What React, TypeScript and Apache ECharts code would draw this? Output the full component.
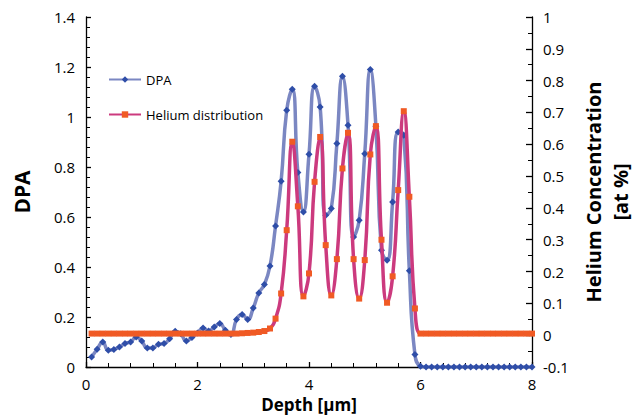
import React, { useEffect, useRef } from "react";
import * as echarts from "echarts";

const depth = [
  0.1, 0.2, 0.3, 0.4, 0.5, 0.6, 0.7, 0.8, 0.9, 1.0,
  1.1, 1.2, 1.3, 1.4, 1.5, 1.6, 1.7, 1.8, 1.9, 2.0,
  2.1, 2.2, 2.3, 2.4, 2.5, 2.6, 2.7, 2.8, 2.9, 3.0,
  3.1, 3.2, 3.3, 3.4, 3.5, 3.6, 3.7, 3.8, 3.9, 4.0,
  4.1, 4.2, 4.3, 4.4, 4.5, 4.6, 4.7, 4.8, 4.9, 5.0,
  5.1, 5.2, 5.3, 5.4, 5.5, 5.6, 5.7, 5.8, 5.9, 6.0,
  6.1, 6.2, 6.3, 6.4, 6.5, 6.6, 6.7, 6.8, 6.9, 7.0,
  7.1, 7.2, 7.3, 7.4, 7.5, 7.6, 7.7, 7.8, 7.9, 8.0,
];

const dpa = [
  0.04, 0.071, 0.10, 0.067, 0.07, 0.08, 0.094, 0.10, 0.12, 0.104,
  0.076, 0.076, 0.091, 0.094, 0.113, 0.143, 0.133, 0.104, 0.118, 0.136,
  0.156, 0.144, 0.16, 0.174, 0.147, 0.13, 0.19, 0.21, 0.19, 0.236,
  0.296, 0.33, 0.404, 0.564, 0.743, 1.027, 1.111, 0.778, 0.62, 0.851,
  1.123, 1.04, 0.607, 0.634, 0.894, 1.163, 0.967, 0.52, 0.587, 0.853,
  1.19, 0.963, 0.467, 0.427, 0.66, 0.94, 0.927, 0.385, 0.05, 0.003,
  0, 0, 0, 0, 0, 0, 0, 0, 0, 0,
  0, 0, 0, 0, 0, 0, 0, 0, 0, 0,
];

const helium = [
  0.005, 0.005, 0.005, 0.005, 0.005, 0.005, 0.005, 0.005, 0.005, 0.005,
  0.005, 0.005, 0.005, 0.005, 0.005, 0.005, 0.005, 0.005, 0.005, 0.005,
  0.005, 0.005, 0.005, 0.005, 0.005, 0.005, 0.005, 0.006, 0.007, 0.008,
  0.01, 0.013, 0.021, 0.052, 0.131, 0.33, 0.608, 0.405, 0.122, 0.194,
  0.482, 0.623, 0.283, 0.125, 0.239, 0.524, 0.636, 0.239, 0.115, 0.236,
  0.568, 0.657, 0.30, 0.102, 0.185, 0.456, 0.704, 0.435, 0.084, 0.005,
  0.005, 0.005, 0.005, 0.005, 0.005, 0.005, 0.005, 0.005, 0.005, 0.005,
  0.005, 0.005, 0.005, 0.005, 0.005, 0.005, 0.005, 0.005, 0.005, 0.005,
];

const seriesNames = ["DPA", "Helium distribution"];

const FONT = "Open Sans";

export default function App() {
  const ref = useRef<HTMLDivElement>(null);

  useEffect(() => {
    if (!ref.current) return;
    const chart = echarts.init(ref.current, null, { renderer: "svg" });
    const axisCommon = {
      axisLine: { show: true, lineStyle: { color: "#000", width: 1.3 } },
      splitLine: { show: false },
      axisTick: { show: true, inside: true, length: 5, lineStyle: { color: "#000", width: 1.3 } },
      axisLabel: { color: "#000", fontFamily: FONT, fontSize: 15 },
      nameTextStyle: { color: "#000", fontFamily: FONT, fontWeight: "bold" as const },
    };
    chart.setOption({
      animation: false,
      backgroundColor: "#fff",
      grid: { left: 86, right: 101, top: 17, bottom: 50, containLabel: false, outerBoundsMode: "none" },
      legend: {
        data: seriesNames,
        orient: "vertical",
        left: 103,
        top: 68,
        itemWidth: 32,
        itemHeight: 8,
        itemGap: 22,
        textStyle: { color: "#000", fontFamily: FONT, fontSize: 13 },
      },
      xAxis: {
        type: "value",
        min: 0,
        max: 8,
        interval: 2,
        name: "Depth [μm]",
        nameLocation: "middle",
        nameGap: 26,
        ...axisCommon,
        axisLabel: { ...axisCommon.axisLabel, margin: 9 },
        minorTick: { show: true, splitNumber: 5, length: 4, lineStyle: { color: "#000", width: 1 } },
        nameTextStyle: { ...axisCommon.nameTextStyle, fontSize: 17 },
      },
      yAxis: [
        {
          type: "value",
          min: 0,
          max: 1.4,
          interval: 0.2,
          name: "DPA",
          nameLocation: "middle",
          nameGap: 54,
          ...axisCommon,
          axisLabel: { ...axisCommon.axisLabel, margin: 11 },
          minorTick: { show: true, splitNumber: 5, length: 4, lineStyle: { color: "#000", width: 1 } },
          nameTextStyle: { ...axisCommon.nameTextStyle, fontSize: 21 },
        },
        {
          type: "value",
          position: "right",
          min: -0.1,
          max: 1,
          interval: 0.1,
          name: "Helium Concentration\n[at %]",
          nameLocation: "middle",
          nameGap: 45,
          ...axisCommon,
          axisTick: { ...axisCommon.axisTick, length: 6 },
          axisLabel: { ...axisCommon.axisLabel, margin: 11 },
          minorTick: { show: true, splitNumber: 2, length: 4, lineStyle: { color: "#000", width: 1 } },
          nameTextStyle: { ...axisCommon.nameTextStyle, fontSize: 20, lineHeight: 27, align: "center" },
        },
      ],
      series: [
        {
          name: seriesNames[0],
          type: "line",
          yAxisIndex: 0,
          data: depth.map((d, i) => [d, dpa[i]]),
          smooth: 0.5,
          symbol: "diamond",
          symbolSize: 7,
          showAllSymbol: true,
          lineStyle: { color: "#7b87c2", width: 3.5 },
          itemStyle: { color: "#2f4ea8" },
          z: 2,
        },
        {
          name: seriesNames[1],
          type: "line",
          yAxisIndex: 1,
          data: depth.map((d, i) => [d, helium[i]]),
          smooth: 0.5,
          symbol: "rect",
          symbolSize: 6,
          showAllSymbol: true,
          lineStyle: { color: "#cc3a7e", width: 3.5 },
          itemStyle: { color: "#f05a24" },
          z: 3,
        },
      ],
    });
    return () => chart.dispose();
  }, []);

  return <div ref={ref} style={{ width: 633, height: 417, position: "absolute", left: 0, top: 0 }} />;
}
